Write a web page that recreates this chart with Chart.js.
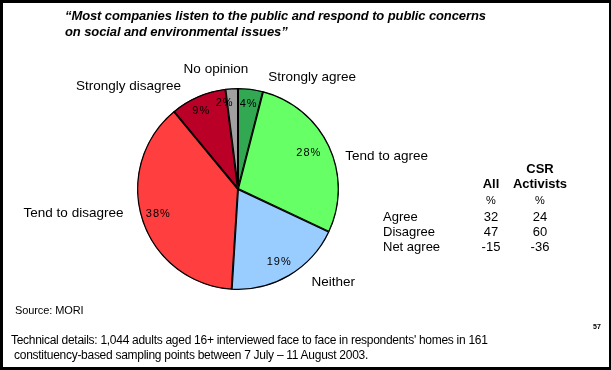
<!DOCTYPE html>
<html><head><meta charset="utf-8">
<script src="https://cdn.jsdelivr.net/npm/chart.js@4/dist/chart.umd.min.js"></script>
<style>
html,body{margin:0;padding:0;background:#fff;}
body{width:611px;height:370px;position:relative;overflow:hidden;font-family:"Liberation Sans",Arial,sans-serif;color:#000;}
#c{position:absolute;left:0;top:0;}
#frame{position:absolute;left:0;top:0;width:611px;height:370px;box-sizing:border-box;border-left:3px solid #000;border-top:3px solid #000;border-right:2px solid #000;border-bottom:3px solid #000;pointer-events:none;}
.t{position:absolute;white-space:nowrap;}
#title{left:65px;top:8px;font-weight:bold;font-style:italic;font-size:13px;line-height:16px;letter-spacing:-0.1px;}
#tbl{position:absolute;left:378px;top:161px;font-size:13px;}
#tbl table{border-collapse:collapse;}
#tbl td{padding:0;}
#src{left:15px;top:304px;font-size:11px;letter-spacing:-0.1px;}
#tech{left:11px;top:333px;font-size:12px;line-height:15px;letter-spacing:-0.28px;}
#pg{left:593px;top:323px;font-size:7px;font-weight:bold;}
</style></head>
<body>
<canvas id="c" width="611" height="370"></canvas>
<div id="title" class="t">“Most companies listen to the public and respond to public concerns<br>on social and environmental issues”</div>
<div id="tbl"></div>
<div id="src" class="t">Source: MORI</div>
<div id="tech" class="t">Technical details: 1,044 adults aged 16+ interviewed face to face in respondents' homes in 161<br>&nbsp;constituency-based sampling points between 7 July – 11 August 2003.</div>
<div id="pg" class="t">57</div>
<div id="frame"></div>
<script>
const categories = ["Strongly agree","Tend to agree","Neither","Tend to disagree","Strongly disagree","No opinion"];
const values = [4, 28, 19, 38, 9, 2];
const colors = ["#33a853","#66ff66","#99ccff","#ff3f3f","#bb0028","#a0a0a0"];

const tableColumns = ["All","Activists"];
const tableRowLabels = ["Agree","Disagree","Net agree"];
const allValues = [32, 47, -15];
const activistValues = [24, 60, -36];

// label offsets (px) relative to points on each slice bisector
const outerOff = [[16,1,'left'],[5,15,'left'],[16,-4,'left'],[-7,-11,'right'],[-12,1,'right'],[-15,-7,'center']];
const innerOff = [[0,-1],[-6,0],[-2,0],[1,-1],[-3,0],[-8,-1]];

// build table
(function(){
  const hs = [15,15,17,16,14,14];
  let h = '<table>';
  h += '<tr style="height:'+hs[0]+'px"><td style="width:96px"></td><td style="width:34px"></td><td style="width:64px;text-align:center;font-weight:bold">CSR</td></tr>';
  h += '<tr style="height:'+hs[1]+'px"><td></td><td style="text-align:center;font-weight:bold">'+tableColumns[0]+'</td><td style="text-align:center;font-weight:bold">'+tableColumns[1]+'</td></tr>';
  h += '<tr style="height:'+hs[2]+'px"><td></td><td style="text-align:center;font-size:11px">%</td><td style="text-align:center;font-size:11px">%</td></tr>';
  for (let i=0;i<tableRowLabels.length;i++){
    h += '<tr style="height:'+hs[3+i]+'px"><td style="padding-left:5px">'+tableRowLabels[i]+'</td><td style="text-align:center">'+allValues[i]+'</td><td style="text-align:center">'+activistValues[i]+'</td></tr>';
  }
  h += '</table>';
  document.getElementById('tbl').innerHTML = h;
})();

const labelPlugin = {
  id:'pieLabels',
  afterDatasetsDraw(chart){
    const ctx = chart.ctx;
    const meta = chart.getDatasetMeta(0);
    meta.data.forEach((arc,i)=>{
      const p = arc.getProps(['x','y','startAngle','endAngle','outerRadius'],true);
      const mid = (p.startAngle+p.endAngle)/2;
      const r = p.outerRadius;
      ctx.save();
      ctx.fillStyle='#000';
      ctx.font='11px "Liberation Sans", Arial, sans-serif';
      ctx.textAlign='center'; ctx.textBaseline='middle';
      try{ctx.letterSpacing='1px';}catch(e){}
      ctx.fillText(values[i]+'%', p.x+Math.cos(mid)*r*0.84+innerOff[i][0], p.y+Math.sin(mid)*r*0.84+innerOff[i][1]);
      ctx.restore();
      ctx.save();
      ctx.fillStyle='#000';
      ctx.font='13.5px "Liberation Sans", Arial, sans-serif';
      ctx.textAlign=outerOff[i][2]; ctx.textBaseline='middle';
      ctx.fillText(categories[i], p.x+Math.cos(mid)*r*1.12+outerOff[i][0], p.y+Math.sin(mid)*r*1.12+outerOff[i][1]);
      ctx.restore();
    });
  }
};

new Chart(document.getElementById('c'),{
  type:'pie',
  data:{labels:categories,datasets:[{data:values,backgroundColor:colors,borderColor:'#000',borderWidth:1,borderAlign:'inner'}]},
  options:{
    responsive:false,animation:false,
    layout:{padding:{left:137,right:272,top:88,bottom:80}},
    plugins:{legend:{display:false},tooltip:{enabled:false},title:{display:false}}
  },
  plugins:[labelPlugin]
});
</script>
</body></html>
